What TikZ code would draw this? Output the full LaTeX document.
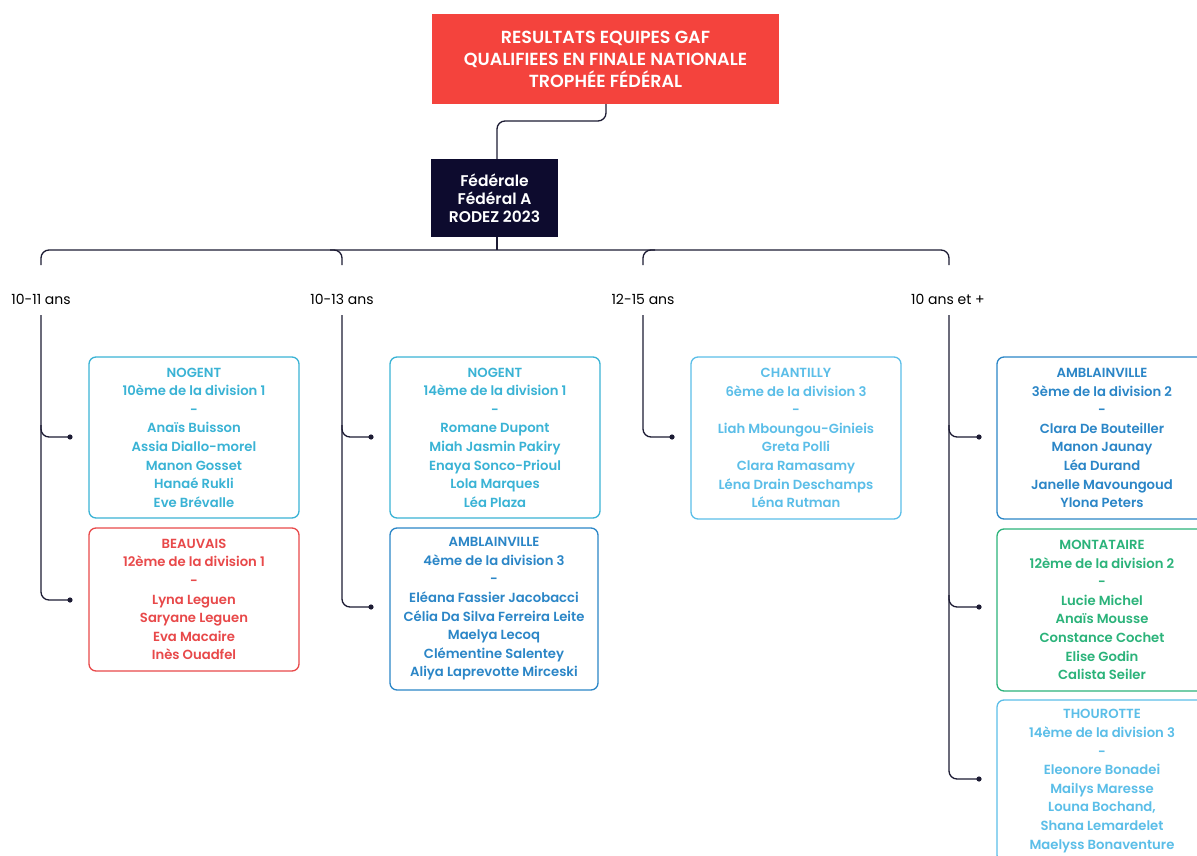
\documentclass[tikz,border=0pt]{standalone}
\usepackage{fontspec}
\setmainfont{Poppins}
\newfontfamily\semifont{Poppins SemiBold}
\definecolor{titlered}{HTML}{F4433D}
\definecolor{navy}{HTML}{0D0B2E}
\definecolor{cnog}{HTML}{3AB3D5}
\definecolor{cbea}{HTML}{E8494A}
\definecolor{camb}{HTML}{2B86C7}
\definecolor{clight}{HTML}{5BBEE8}
\definecolor{cgreen}{HTML}{2BB37A}
\definecolor{cline}{HTML}{1C1B33}
\tikzset{
  team/.style={draw=#1, text=#1, line width=1.3pt, rounded corners=7pt, fill=white,
    minimum width=210pt, align=center, inner sep=0pt,
    font=\fontsize{13.2}{18.6}\semifont},
  agelabel/.style={font=\fontsize{14}{16}\selectfont, text=black, inner sep=1pt},
  conn/.style={draw=cline, line width=1.3pt, rounded corners=8pt},
  dotend/.style={fill=cline},
}
\begin{document}
\begin{tikzpicture}[x=1pt,y=-1pt]
\useasboundingbox (0,0) rectangle (1197,856);
\clip (0,0) rectangle (1197,856);
% title
\node[fill=titlered, text=white, minimum width=347pt, minimum height=90pt, align=center,
  font=\fontsize{17.5}{22}\semifont, inner sep=0pt] (title) at (605.5,59)
  {RESULTATS EQUIPES GAF\\QUALIFIEES EN FINALE NATIONALE\\TROPHÉE FÉDÉRAL};
\node[fill=navy, text=white, minimum width=127pt, minimum height=78pt, align=center,
  font=\fontsize{15.5}{18}\semifont, inner sep=0pt] (fed) at (494.5,198)
  {Fédérale\\Fédéral A\\RODEZ 2023};
\draw[conn] (title.south -| 606,0) -- (606,121) -- (497,121) -- (497,159);
% bus
\coordinate (busc) at (497,250);
\draw[conn] (497,237) -- (busc);
\draw[conn] (41,265) -- (41,250) -- (949,250) -- (949,265);
\draw[conn] (330,250) -- (342,250) -- (342,265);
\draw[conn] (655,250) -- (643,250) -- (643,265);
% age labels
\node[agelabel] (a1) at (41,299) {10-11 ans};
\node[agelabel] (a2) at (342,299) {10-13 ans};
\node[agelabel] (a3) at (643,299) {12-15 ans};
\node[agelabel] (a4) at (948,299) {10 ans et +};
% boxes
\node[team=cnog, minimum height=161pt] (b1) at (194,437.5)
  {NOGENT\\10ème de la division 1\\-\\Anaïs Buisson\\Assia Diallo-morel\\Manon Gosset\\Hanaé Rukli\\Eve Brévalle};
\node[team=cbea, minimum height=143pt] (b2) at (194,599.5)
  {BEAUVAIS\\12ème de la division 1\\-\\Lyna Leguen\\Saryane Leguen\\Eva Macaire\\Inès Ouadfel};
\node[team=cnog, minimum height=161pt] (b3) at (495,437.5)
  {NOGENT\\14ème de la division 1\\-\\Romane Dupont\\Miah Jasmin Pakiry\\Enaya Sonco-Prioul\\Lola Marques\\Léa Plaza};
\node[team=camb, minimum height=162pt, minimum width=208pt] (b4) at (494,609)
  {AMBLAINVILLE\\4ème de la division 3\\-\\Eléana Fassier Jacobacci\\Célia Da Silva Ferreira Leite\\Maelya Lecoq\\Clémentine Salentey\\Aliya Laprevotte Mirceski};
\node[team=clight, minimum height=162pt] (b5) at (796,438)
  {CHANTILLY\\6ème de la division 3\\-\\Liah Mboungou-Ginieis\\Greta Polli\\Clara Ramasamy\\Léna Drain Deschamps\\Léna Rutman};
\node[team=camb, minimum height=162pt] (b6) at (1102,438)
  {AMBLAINVILLE\\3ème de la division 2\\-\\Clara De Bouteiller\\Manon Jaunay\\Léa Durand\\Janelle Mavoungoud\\Ylona Peters};
\node[team=cgreen, minimum height=162pt] (b7) at (1102,610)
  {MONTATAIRE\\12ème de la division 2\\-\\Lucie Michel\\Anaïs Mousse\\Constance Cochet\\Elise Godin\\Calista Seiler};
\node[team=clight, minimum height=162pt] (b8) at (1102,781)
  {THOUROTTE\\14ème de la division 3\\-\\Eleonore Bonadei\\Mailys Maresse\\Louna Bochand,\\Shana Lemardelet\\Maelyss Bonaventure};
% column connectors
\coordinate (d1) at (70,437); \coordinate (d2) at (70,600);
\coordinate (d3) at (371,437); \coordinate (d4) at (371,607);
\coordinate (d5) at (672,437);
\coordinate (d6) at (979,437); \coordinate (d7) at (979,607); \coordinate (d8) at (979,779);
\draw[conn] (41,315) -- (41,600) -- (d2);
\draw[conn] (41,425) -- (41,437) -- (d1);
\draw[conn] (342,315) -- (342,607) -- (d4);
\draw[conn] (342,425) -- (342,437) -- (d3);
\draw[conn] (643,315) -- (643,437) -- (d5);
\draw[conn] (949,315) -- (949,779) -- (d8);
\draw[conn] (949,425) -- (949,437) -- (d6);
\draw[conn] (949,595) -- (949,607) -- (d7);
\foreach \d in {d1,d2,d3,d4,d5,d6,d7,d8} \fill[dotend] (\d) circle (2.6pt);
\end{tikzpicture}
\end{document}
